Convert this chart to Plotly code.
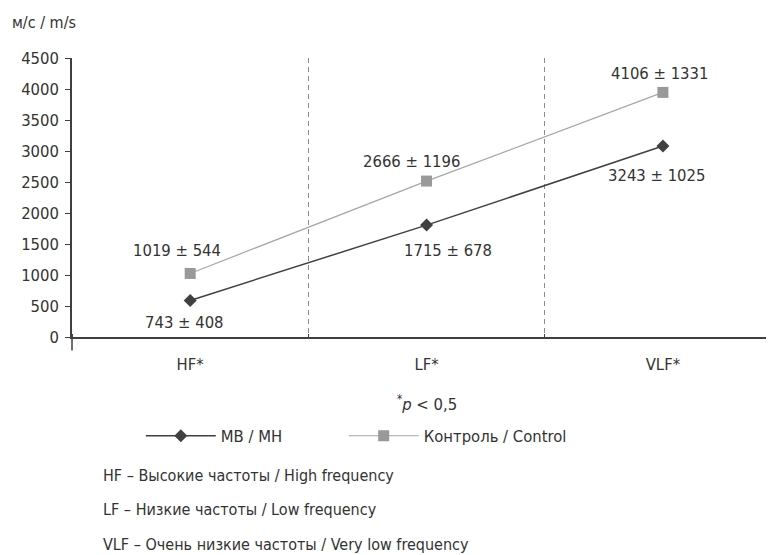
import plotly.graph_objects as go

categories = ["HF*", "LF*", "VLF*"]
mb_values = [590, 1805, 3080]
control_values = [1025, 2515, 3945]
mb_labels = ["743 ± 408", "1715 ± 678", "3243 ± 1025"]
control_labels = ["1019 ± 544", "2666 ± 1196", "4106 ± 1331"]
y_ticks = [0, 500, 1000, 1500, 2000, 2500, 3000, 3500, 4000, 4500]
notes = [
    "HF – Высокие частоты / High frequency",
    "LF – Низкие частоты / Low frequency",
    "VLF – Очень низкие частоты / Very low frequency",
]

FONT = "DejaVu Sans Condensed, sans-serif"
TXT = "#333333"
FS = 16.5
x_idx = list(range(len(categories)))

fig = go.Figure()
fig.add_trace(go.Scatter(
    x=x_idx, y=mb_values, name="МВ / MH", mode="lines+markers",
    line=dict(color="#404040", width=1.5),
    marker=dict(symbol="diamond", size=10, color="#404040"),
    legend="legend",
))
fig.add_trace(go.Scatter(
    x=x_idx, y=control_values, name="Контроль / Control", mode="lines+markers",
    line=dict(color="#a6a6a6", width=1.2),
    marker=dict(symbol="square", size=11, color="#999999"),
    legend="legend2",
))

ctrl_shift = [(-13, 23), (-15, 20), (-3, 19)]
mb_shift = [(-6, -22), (21, -25), (-6, -29)]
for i in x_idx:
    fig.add_annotation(x=i, y=control_values[i], text=control_labels[i], showarrow=False,
                       xshift=ctrl_shift[i][0], yshift=ctrl_shift[i][1],
                       xanchor="center", yanchor="middle",
                       font=dict(size=FS, color=TXT, family=FONT))
    fig.add_annotation(x=i, y=mb_values[i], text=mb_labels[i], showarrow=False,
                       xshift=mb_shift[i][0], yshift=mb_shift[i][1],
                       xanchor="center", yanchor="middle",
                       font=dict(size=FS, color=TXT, family=FONT))

fig.add_annotation(xref="paper", yref="paper", x=-0.088, y=1.129,
                   xanchor="left", yanchor="middle",
                   text="м/с / m/s", showarrow=False,
                   font=dict(size=16, color=TXT, family=FONT))
fig.add_annotation(xref="x", yref="paper", x=1, y=-0.237,
                   xanchor="center", yanchor="middle",
                   text="<sup>*</sup><i>p</i> < 0,5", showarrow=False,
                   font=dict(size=FS, color=TXT, family=FONT))
for t, yp in zip(notes, [-0.498, -0.620, -0.7455]):
    fig.add_annotation(xref="paper", yref="paper", x=0.041, y=yp,
                       xanchor="left", yanchor="middle",
                       text=t, showarrow=False,
                       font=dict(size=16, color=TXT, family=FONT))

# y axis extension below the x axis
fig.add_shape(type="line", xref="paper", yref="paper", x0=0, x1=0, y0=0, y1=-0.048,
              line=dict(color="#404040", width=1.5))

legend_style = dict(orientation="h", y=-0.355, xanchor="left", yanchor="middle",
                    itemwidth=70, bgcolor="rgba(0,0,0,0)",
                    font=dict(size=FS, color=TXT, family=FONT))

# page body has an 8px margin, so the figure is 8px smaller than the window
fig.update_layout(
    width=766, height=547,
    margin=dict(l=64, r=0, t=50, b=218),
    paper_bgcolor="white", plot_bgcolor="white",
    font=dict(family=FONT, size=FS, color=TXT),
    showlegend=True,
    legend=dict(x=0.098, **legend_style),
    legend2=dict(x=0.387, **legend_style),
    xaxis=dict(
        range=[-0.5, 2.47], tickmode="array", tickvals=x_idx, ticktext=categories,
        ticks="", showgrid=False, zeroline=False,
        showline=True, linecolor="#404040", linewidth=1.5,
        ticklabelstandoff=11,
        minor=dict(tickmode="array", tickvals=[-0.5, 0.5, 1.5], showgrid=True,
                   gridcolor="#8c8c8c", griddash="5px,4px", gridwidth=1,
                   ticks="inside", ticklen=3, tickcolor="#404040"),
    ),
    yaxis=dict(
        range=[0, 4500], tickmode="array", tickvals=y_ticks,
        ticks="outside", ticklen=5, tickcolor="#404040", tickwidth=1,
        showgrid=False, zeroline=False,
        showline=True, linecolor="#404040", linewidth=1.5,
        ticklabelstandoff=3,
    ),
)

fig.write_html("out.html")
